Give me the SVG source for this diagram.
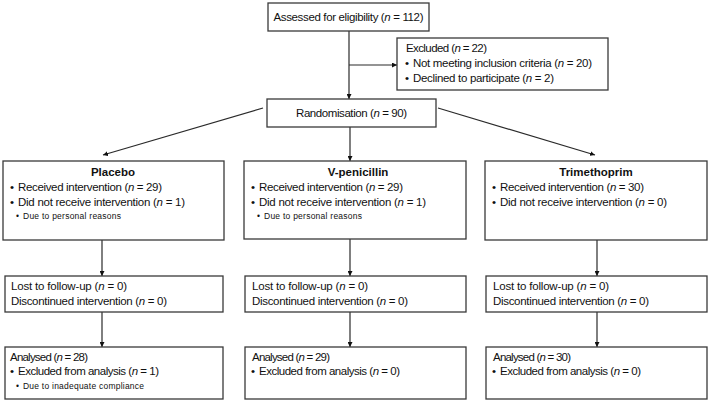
<svg xmlns="http://www.w3.org/2000/svg" width="709" height="402" viewBox="0 0 709 402">
<style>
.box{fill:#fff;stroke:#3a3a3a;stroke-width:1.3}
.t{font-family:"Liberation Sans",Arial,sans-serif;font-size:11.5px;fill:#111}
.s{font-family:"Liberation Sans",Arial,sans-serif;font-size:8.5px;fill:#111}
.b{font-weight:bold}
.c{stroke:#2a2a2a;stroke-width:1.2;fill:none;marker-end:url(#ah)}
</style>
<defs>
<marker id="ah" viewBox="0 0 10 10" refX="10" refY="5" markerWidth="5" markerHeight="5" markerUnits="userSpaceOnUse" orient="auto">
<path d="M0,0 L10,5 L0,10 z" fill="#111"/>
</marker>
</defs>
<rect width="709" height="402" fill="#fff"/>
<g id="connectors">
<line class="c" x1="349" y1="31" x2="349" y2="99"/>
<line class="c" x1="349" y1="65" x2="397" y2="65"/>
<line class="c" x1="263" y1="108" x2="103" y2="155"/>
<line class="c" x1="438" y1="108" x2="595" y2="155"/>
<line class="c" x1="350" y1="127" x2="350" y2="161"/>
<line class="c" x1="102" y1="240" x2="102" y2="276"/>
<line class="c" x1="350" y1="239" x2="350" y2="276"/>
<line class="c" x1="597" y1="240" x2="597" y2="276"/>
<line class="c" x1="102" y1="312" x2="102" y2="347"/>
<line class="c" x1="350" y1="312" x2="350" y2="347"/>
<line class="c" x1="597" y1="312" x2="597" y2="347"/>
</g>
<g id="assessed">
<rect class="box" x="268" y="3" width="161" height="28"/>
<text class="t" x="348.5" y="21" text-anchor="middle" textLength="150">Assessed for eligibility (<tspan font-style="italic">n</tspan> = 112)</text>
</g>
<g id="excluded">
<rect class="box" x="397" y="38" width="211" height="52"/>
<text class="t" x="406" y="52" textLength="81">Excluded (<tspan font-style="italic">n</tspan> = 22)</text>
<text class="t" x="405" y="67">•</text><text class="t" x="413" y="67" textLength="179">Not meeting inclusion criteria (<tspan font-style="italic">n</tspan> = 20)</text>
<text class="t" x="405" y="82">•</text><text class="t" x="413" y="82" textLength="141">Declined to participate (<tspan font-style="italic">n</tspan> = 2)</text>
</g>
<g id="randomisation">
<rect class="box" x="267" y="99" width="169" height="28"/>
<text class="t" x="351.5" y="117" text-anchor="middle" textLength="111">Randomisation (<tspan font-style="italic">n</tspan> = 90)</text>
</g>
<g id="placebo">
<rect class="box" x="3" y="161" width="221" height="79"/>
<text class="t b" x="113" y="176" text-anchor="middle">Placebo</text>
<text class="t" x="10" y="191">•</text><text class="t" x="18" y="191" textLength="144">Received intervention (<tspan font-style="italic">n</tspan> = 29)</text>
<text class="t" x="10" y="206">•</text><text class="t" x="18" y="206" textLength="167">Did not receive intervention (<tspan font-style="italic">n</tspan> = 1)</text>
<text class="s" x="16" y="219">•</text><text class="s" x="23" y="219" textLength="98">Due to personal reasons</text>
</g>
<g id="vpenicillin">
<rect class="box" x="244" y="161" width="222" height="78"/>
<text class="t b" x="358" y="176" text-anchor="middle">V-penicillin</text>
<text class="t" x="251" y="191">•</text><text class="t" x="259" y="191" textLength="144">Received intervention (<tspan font-style="italic">n</tspan> = 29)</text>
<text class="t" x="251" y="206">•</text><text class="t" x="259" y="206" textLength="167">Did not receive intervention (<tspan font-style="italic">n</tspan> = 1)</text>
<text class="s" x="257" y="219">•</text><text class="s" x="264" y="219" textLength="98">Due to personal reasons</text>
</g>
<g id="trimethoprim">
<rect class="box" x="485" y="161" width="222" height="79"/>
<text class="t b" x="596" y="176" text-anchor="middle">Trimethoprim</text>
<text class="t" x="492" y="191">•</text><text class="t" x="500" y="191" textLength="144">Received intervention (<tspan font-style="italic">n</tspan> = 30)</text>
<text class="t" x="492" y="206">•</text><text class="t" x="500" y="206" textLength="167">Did not receive intervention (<tspan font-style="italic">n</tspan> = 0)</text>
</g>
<g id="lost-placebo">
<rect class="box" x="5" y="276" width="218" height="36"/>
<text class="t" x="11" y="290" textLength="116">Lost to follow-up (<tspan font-style="italic">n</tspan> = 0)</text>
<text class="t" x="11" y="305" textLength="156">Discontinued intervention (<tspan font-style="italic">n</tspan> = 0)</text>
</g>
<g id="lost-vpenicillin">
<rect class="box" x="245" y="276" width="221" height="36"/>
<text class="t" x="252" y="290" textLength="116">Lost to follow-up (<tspan font-style="italic">n</tspan> = 0)</text>
<text class="t" x="252" y="305" textLength="156">Discontinued intervention (<tspan font-style="italic">n</tspan> = 0)</text>
</g>
<g id="lost-trimethoprim">
<rect class="box" x="486" y="276" width="221" height="36"/>
<text class="t" x="493" y="290" textLength="116">Lost to follow-up (<tspan font-style="italic">n</tspan> = 0)</text>
<text class="t" x="493" y="305" textLength="156">Discontinued intervention (<tspan font-style="italic">n</tspan> = 0)</text>
</g>
<g id="analysed-placebo">
<rect class="box" x="5" y="347" width="218" height="52"/>
<text class="t" x="10" y="361" textLength="78">Analysed (<tspan font-style="italic">n</tspan>  = 28)</text>
<text class="t" x="10" y="375">•</text><text class="t" x="18" y="375" textLength="141">Excluded from analysis (<tspan font-style="italic">n</tspan> = 1)</text>
<text class="s" x="16" y="389">•</text><text class="s" x="23" y="389" textLength="121">Due to inadequate compliance</text>
</g>
<g id="analysed-vpenicillin">
<rect class="box" x="245" y="347" width="221" height="52"/>
<text class="t" x="252" y="361" textLength="78">Analysed (<tspan font-style="italic">n</tspan>  = 29)</text>
<text class="t" x="251" y="375">•</text><text class="t" x="259" y="375" textLength="141">Excluded from analysis (<tspan font-style="italic">n</tspan> = 0)</text>
</g>
<g id="analysed-trimethoprim">
<rect class="box" x="486" y="347" width="221" height="52"/>
<text class="t" x="493" y="361" textLength="78">Analysed (<tspan font-style="italic">n</tspan>  = 30)</text>
<text class="t" x="492" y="375">•</text><text class="t" x="500" y="375" textLength="141">Excluded from analysis (<tspan font-style="italic">n</tspan> = 0)</text>
</g>
</svg>
